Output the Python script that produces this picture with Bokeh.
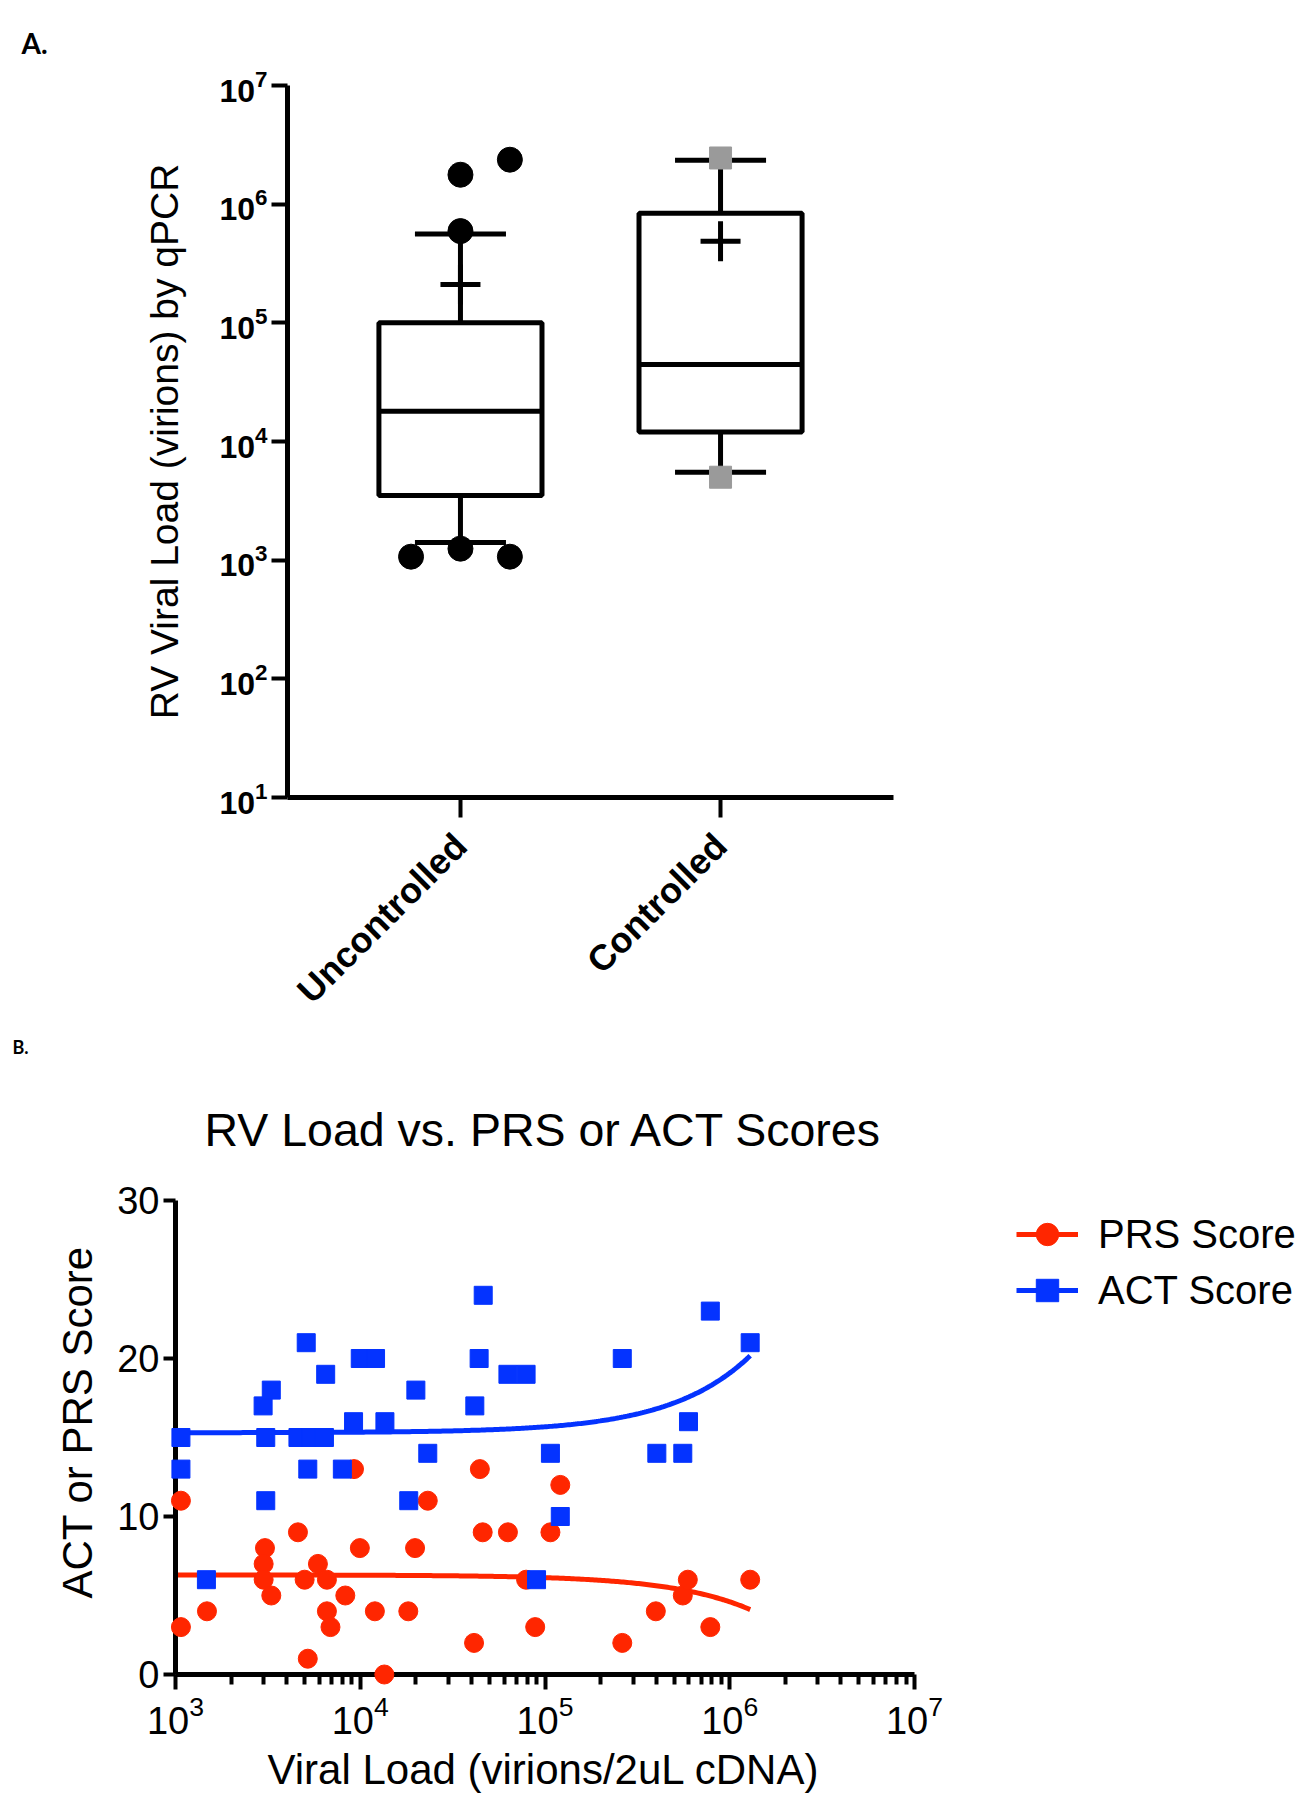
import numpy as np
from math import pi
from bokeh.plotting import figure
from bokeh.models import Range1d, FixedTicker, Title, Legend, LegendItem
from bokeh.embed import file_html
from bokeh.resources import INLINE

FONT = "Liberation Sans"

# ---------------- Panel A data ----------------
groups = ["Uncontrolled", "Controlled"]
q1 = [3.5e3, 1.2e4]
medians = [1.8e4, 4.45e4]
q3 = [1.0e5, 8.4e5]
whisker_low = [1.41e3, 5.5e3]
whisker_high = [5.6e5, 2.35e6]
means = [2.1e5, 4.86e5]
unc_outliers = [1.77e6, 2.37e6, 5.93e5, 1.07e3, 1.25e3, 1.07e3]
unc_outlier_slot = [0, 1, 0, -1, 0, 1]
ctrl_extremes = [5.0e3, 2.45e6]
a_ticks = [1e1, 1e2, 1e3, 1e4, 1e5, 1e6, 1e7]

# ---------------- Panel B data ----------------
act_load = [1.07e3, 1.07e3, 1.47e3, 2.98e3, 3.08e3, 3.08e3, 3.3e3, 4.6e3, 5.1e3,
            5.2e3, 5.4e3, 6.4e3, 6.5e3, 8.0e3, 9.2e3, 1.0e4, 1.21e4, 1.36e4,
            1.83e4, 2.0e4, 2.32e4, 4.17e4, 4.4e4, 4.63e4, 6.3e4, 7.9e4, 9.0e4,
            1.07e5, 1.21e5, 2.62e5, 4.03e5, 5.57e5, 5.98e5, 7.85e5, 1.29e6]
act_score = [15, 13, 6, 17, 15, 11, 18, 15, 21,
             13, 15, 15, 19, 13, 16, 20, 20, 16,
             11, 18, 14, 17, 20, 24, 19, 19, 6,
             14, 10, 20, 14, 14, 16, 23, 21]
prs_load = [1.07e3, 1.07e3, 1.48e3, 3.05e3, 3.0e3, 3.0e3, 3.3e3, 4.6e3, 5.0e3,
            5.2e3, 5.9e3, 6.6e3, 6.6e3, 6.9e3, 8.3e3, 9.25e3, 9.95e3, 1.2e4,
            1.35e4, 1.82e4, 1.98e4, 2.32e4, 4.13e4, 4.44e4, 4.6e4, 6.3e4, 7.9e4,
            8.85e4, 1.07e5, 1.21e5, 2.62e5, 3.98e5, 5.57e5, 5.93e5, 7.85e5, 1.29e6]
prs_score = [11, 3, 4, 8, 7, 6, 5, 9, 6,
             1, 7, 6, 4, 3, 5, 13, 8, 4,
             0, 4, 8, 11, 2, 13, 9, 9, 6,
             3, 9, 12, 2, 4, 5, 6, 3, 6]
act_fit_intercept, act_fit_slope = 15.3, 3.78e-6
prs_fit_intercept, prs_fit_slope = 6.3, -1.7e-6
fit_load_min, fit_load_max = 1.0e3, 1.29e6
b_xticks = [1e3, 1e4, 1e5, 1e6, 1e7]
b_yticks = [0, 10, 20, 30]

W = 1306

# ================= Panel A =================
HA = 1030
pA = figure(width=W, height=HA, x_range=Range1d(0.335, 2.665), y_range=Range1d(10, 1e7),
            y_axis_type="log", output_backend="svg", toolbar_location=None,
            min_border_left=287, min_border_right=W - 893, min_border_top=85,
            min_border_bottom=HA - 797)
pA.outline_line_color = None
pA.xgrid.visible = False
pA.ygrid.visible = False

pos = [i + 1 for i in range(len(groups))]
BOX_W, CAP_W, JIT = 0.627, 0.35, 0.19

pA.segment(x0=pos, y0=q3, x1=pos, y1=whisker_high, line_color="black", line_width=5)
pA.segment(x0=pos, y0=q1, x1=pos, y1=whisker_low, line_color="black", line_width=5)
pA.segment(x0=[p - CAP_W / 2 for p in pos], y0=whisker_high, x1=[p + CAP_W / 2 for p in pos],
           y1=whisker_high, line_color="black", line_width=5)
pA.segment(x0=[p - CAP_W / 2 for p in pos], y0=whisker_low, x1=[p + CAP_W / 2 for p in pos],
           y1=whisker_low, line_color="black", line_width=5)
pA.quad(left=[p - BOX_W / 2 for p in pos], right=[p + BOX_W / 2 for p in pos], bottom=q1, top=q3,
        fill_color="white", line_color="black", line_width=5)
pA.segment(x0=[p - BOX_W / 2 for p in pos], y0=medians, x1=[p + BOX_W / 2 for p in pos],
           y1=medians, line_color="black", line_width=5)
pA.scatter(x=pos, y=means, marker="cross", size=40, line_color="black", line_width=5)
pA.scatter(x=[pos[0] + s * JIT for s in unc_outlier_slot], y=unc_outliers, marker="circle",
           size=25, fill_color="black", line_color="black")
pA.scatter(x=[pos[1]] * len(ctrl_extremes), y=ctrl_extremes, marker="square", size=22,
           fill_color="#9a9a9a", line_color="#9a9a9a")

ya = pA.yaxis[0]
ya.ticker = FixedTicker(ticks=a_ticks)
ya.axis_line_width = 5
ya.major_tick_line_width = 4
ya.major_tick_out = 16
ya.major_tick_in = 0
ya.minor_tick_line_color = None
ya.major_label_text_font = FONT
ya.major_label_text_font_size = "32px"
ya.major_label_text_font_style = "bold"
ya.major_label_text_color = "black"
ya.major_label_standoff = 4
ya.axis_label = "RV Viral Load (virions) by qPCR"
ya.axis_label_text_font = FONT
ya.axis_label_text_font_size = "39px"
ya.axis_label_text_font_style = "normal"
ya.axis_label_text_color = "black"
ya.axis_label_standoff = 30

xa = pA.xaxis[0]
xa.ticker = FixedTicker(ticks=pos)
xa.major_label_overrides = {p: g for p, g in zip(pos, groups)}
xa.major_label_orientation = pi / 4
xa.axis_line_width = 5
xa.major_tick_line_width = 4
xa.major_tick_out = 20
xa.major_tick_in = 0
xa.minor_tick_line_color = None
xa.major_label_text_font = FONT
xa.major_label_text_font_size = "36px"
xa.major_label_text_font_style = "bold"
xa.major_label_text_color = "black"
xa.major_label_standoff = 22

pA.add_layout(Title(text="A.", align="left", vertical_align="top", offset=21 - 287, standoff=48,
                    text_font="Lato", text_font_size="28px", text_font_style="bold",
                    text_color="black"), "above")

# ================= Panel B =================
HB = 1800 - HA
FB_TOP, FB_BOTTOM, FB_LEFT = 1200 - HA, 1677 - HA, 175
FB_AXIS_END = 914            # pixel where 10^7 sits
FB_RIGHT = W                 # frame runs to the page edge; the x axis is bounded
decade_px = (FB_AXIS_END - FB_LEFT) / (np.log10(b_xticks[-1]) - np.log10(b_xticks[0]))
x_end = 10 ** (np.log10(b_xticks[0]) + (FB_RIGHT - FB_LEFT) / decade_px)

pB = figure(width=W, height=HB, x_range=Range1d(b_xticks[0], x_end), y_range=Range1d(0, 30),
            x_axis_type="log", output_backend="svg", toolbar_location=None,
            min_border_left=FB_LEFT, min_border_right=0, min_border_top=FB_TOP,
            min_border_bottom=HB - FB_BOTTOM, title="B.")
pB.outline_line_color = None
pB.xgrid.visible = False
pB.ygrid.visible = False

pB.title.align = "left"
pB.title.offset = 12 - FB_LEFT
pB.title.standoff = 0
pB.title.text_font = "Lato"
pB.title.text_font_size = "18px"
pB.title.text_font_style = "bold"
pB.title.text_color = "black"

pB.add_layout(Title(text="RV Load vs. PRS or ACT Scores", align="left", offset=29, standoff=89,
                    text_font=FONT, text_font_size="46.5px", text_font_style="normal",
                    text_color="black"), "above")

fit_x = np.logspace(np.log10(fit_load_min), np.log10(fit_load_max), 300)
act_line = pB.line(fit_x, act_fit_intercept + act_fit_slope * fit_x, line_color="#0433FF", line_width=5)
prs_line = pB.line(fit_x, prs_fit_intercept + prs_fit_slope * fit_x, line_color="#FF2600", line_width=5)
prs_pts = pB.scatter(prs_load, prs_score, marker="circle", size=19, fill_color="#FF2600",
                     line_color="#FF2600", level="overlay")
act_pts = pB.scatter(act_load, act_score, marker="square", size=18, fill_color="#0433FF",
                     line_color="#0433FF", level="overlay")

xb = pB.xaxis[0]
xb.bounds = (b_xticks[0], b_xticks[-1])
xb.ticker = FixedTicker(ticks=b_xticks,
                        minor_ticks=[k * 10 ** n for n in range(3, 7) for k in range(2, 10)])
xb.axis_line_width = 5
xb.major_tick_line_width = 4
xb.major_tick_out = 15
xb.major_tick_in = 0
xb.minor_tick_line_width = 4
xb.minor_tick_out = 10
xb.minor_tick_in = 0
xb.major_label_text_font = FONT
xb.major_label_text_font_size = "38px"
xb.major_label_text_color = "black"
xb.major_label_standoff = 5

# x axis title (kept centred under the bounded axis)
pB.add_layout(Title(text="Viral Load (virions/2uL cDNA)", align="left", offset=92, standoff=15,
                    text_font=FONT, text_font_size="42px", text_font_style="normal",
                    text_color="black"), "below")

yb = pB.yaxis[0]
yb.ticker = FixedTicker(ticks=b_yticks)
yb.axis_line_width = 5
yb.major_tick_line_width = 4
yb.major_tick_out = 12
yb.major_tick_in = 0
yb.minor_tick_line_color = None
yb.major_label_text_font = FONT
yb.major_label_text_font_size = "38px"
yb.major_label_text_color = "black"
yb.major_label_standoff = 4

pB.add_layout(Title(text="ACT or PRS Score", align="left", offset=76, standoff=27,
                    text_font=FONT, text_font_size="42px", text_font_style="normal",
                    text_color="black"), "left")

legend = Legend(items=[LegendItem(label="PRS Score", renderers=[prs_line, prs_pts]),
                       LegendItem(label="ACT Score", renderers=[act_line, act_pts])],
                location=(1016 - FB_LEFT, 356), orientation="vertical",
                glyph_width=62, glyph_height=56, label_height=56, label_standoff=20,
                spacing=0, padding=0, margin=0, border_line_color=None,
                background_fill_alpha=0, label_text_font=FONT, label_text_font_size="40px",
                label_text_color="black")
pB.add_layout(legend)

open("out.html", "w").write(file_html([pA, pB], INLINE))
